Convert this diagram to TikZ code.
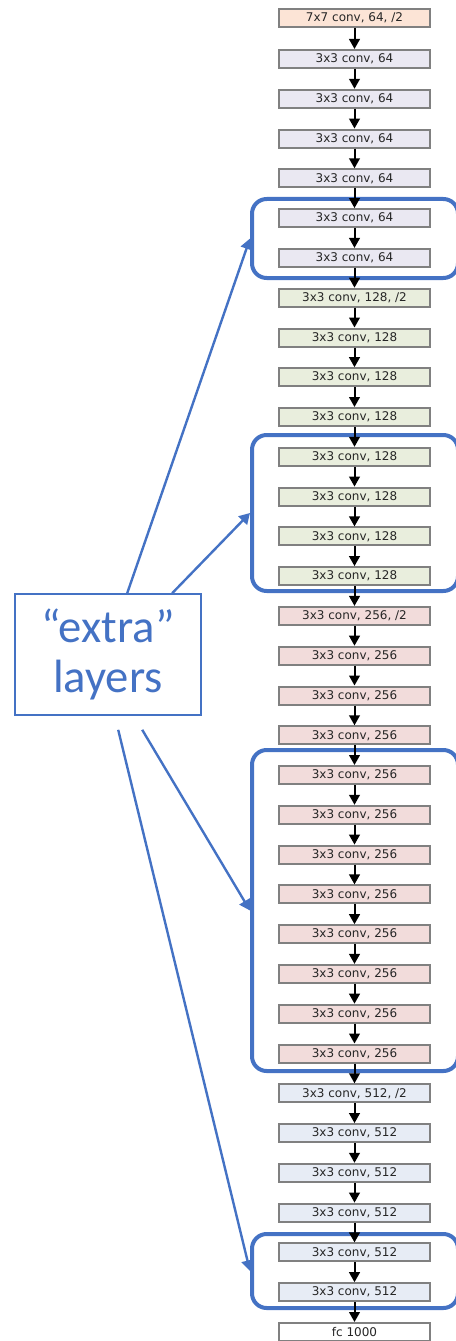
\documentclass[tikz,border=0pt]{standalone}
\usepackage{fontspec}
\newfontfamily\layerfont{DejaVu Sans}
\newfontfamily\notefont{Carlito}
\usepackage{xcolor}
\definecolor{rnpeach}{RGB}{252,228,214}
\definecolor{rnlilac}{RGB}{234,232,242}
\definecolor{rngreen}{RGB}{233,238,221}
\definecolor{rnpink}{RGB}{242,220,219}
\definecolor{rnice}{RGB}{231,236,245}
\definecolor{rngray}{RGB}{128,128,128}
\definecolor{rnblue}{RGB}{68,114,196}
\usetikzlibrary{arrows.meta,positioning,calc}

\begin{document}
\begin{tikzpicture}[x=0.75pt,y=-0.75pt,
  layer/.style={draw=rngray,line width=1.5pt,minimum width=113.5pt,
        minimum height=13.5pt,inner sep=0pt,text=black!85,
        font=\layerfont\fontsize{9}{10}\selectfont},
  flow/.style={-{Triangle[length=7.5pt,width=8pt]},line width=1.5pt},
  group/.style={draw=rnblue,line width=3pt,rounded corners=11pt,
        inner sep=0pt,minimum width=154.5pt},
  pointer/.style={-{Triangle[length=8pt,width=9pt]},draw=rnblue,line width=1.8pt}]
  \useasboundingbox (0,0) rectangle (455,1341);

  %% Frames round the "extra" layers
  \node[group,minimum height=59.25pt] (g1) at (355,238.5) {};
  \node[group,minimum height=117pt] (g2) at (355,513) {};
  \node[group,minimum height=240.75pt] (g3) at (355,910.5) {};
  \node[group,minimum height=55.5pt] (g4) at (355,1271) {};

  %% Stem and 64 stage
  \node[layer,fill=rnpeach] (l1) at (354.5,17.8) {7x7 conv, 64, /2};
  \node[layer,fill=rnlilac] (l2) at (354.5,59) {3x3 conv, 64};
  \node[layer,fill=rnlilac] (l3) at (354.5,98.8) {3x3 conv, 64};
  \node[layer,fill=rnlilac] (l4) at (354.5,138.6) {3x3 conv, 64};
  \node[layer,fill=rnlilac] (l5) at (354.5,178.3) {3x3 conv, 64};
  \node[layer,fill=rnlilac] (l6) at (354.5,218.1) {3x3 conv, 64};
  \node[layer,fill=rnlilac] (l7) at (354.5,257.9) {3x3 conv, 64};

  %% 128 stage
  \node[layer,fill=rngreen] (l8) at (354.5,297.7) {3x3 conv, 128, /2};
  \node[layer,fill=rngreen] (l9) at (354.5,337.5) {3x3 conv, 128};
  \node[layer,fill=rngreen] (l10) at (354.5,377.2) {3x3 conv, 128};
  \node[layer,fill=rngreen] (l11) at (354.5,417) {3x3 conv, 128};
  \node[layer,fill=rngreen] (l12) at (354.5,456.8) {3x3 conv, 128};
  \node[layer,fill=rngreen] (l13) at (354.5,496.6) {3x3 conv, 128};
  \node[layer,fill=rngreen] (l14) at (354.5,536.4) {3x3 conv, 128};
  \node[layer,fill=rngreen] (l15) at (354.5,576.1) {3x3 conv, 128};

  %% 256 stage
  \node[layer,fill=rnpink] (l16) at (354.5,615.9) {3x3 conv, 256, /2};
  \node[layer,fill=rnpink] (l17) at (354.5,655.7) {3x3 conv, 256};
  \node[layer,fill=rnpink] (l18) at (354.5,695.5) {3x3 conv, 256};
  \node[layer,fill=rnpink] (l19) at (354.5,735.3) {3x3 conv, 256};
  \node[layer,fill=rnpink] (l20) at (354.5,775) {3x3 conv, 256};
  \node[layer,fill=rnpink] (l21) at (354.5,814.8) {3x3 conv, 256};
  \node[layer,fill=rnpink] (l22) at (354.5,854.6) {3x3 conv, 256};
  \node[layer,fill=rnpink] (l23) at (354.5,894.4) {3x3 conv, 256};
  \node[layer,fill=rnpink] (l24) at (354.5,934.2) {3x3 conv, 256};
  \node[layer,fill=rnpink] (l25) at (354.5,973.9) {3x3 conv, 256};
  \node[layer,fill=rnpink] (l26) at (354.5,1013.7) {3x3 conv, 256};
  \node[layer,fill=rnpink] (l27) at (354.5,1053.5) {3x3 conv, 256};

  %% 512 stage and classifier
  \node[layer,fill=rnice] (l28) at (354.5,1093.3) {3x3 conv, 512, /2};
  \node[layer,fill=rnice] (l29) at (354.5,1133.1) {3x3 conv, 512};
  \node[layer,fill=rnice] (l30) at (354.5,1172.8) {3x3 conv, 512};
  \node[layer,fill=rnice] (l31) at (354.5,1212.6) {3x3 conv, 512};
  \node[layer,fill=rnice] (l32) at (354.5,1252.4) {3x3 conv, 512};
  \node[layer,fill=rnice] (l33) at (354.5,1292.2) {3x3 conv, 512};
  \node[layer,fill=white] (l34) at (354.5,1332) {fc 1000};

  %% Flow between layers
  \draw[flow] (l1) -- (l2);
  \draw[flow] (l2) -- (l3);
  \draw[flow] (l3) -- (l4);
  \draw[flow] (l4) -- (l5);
  \draw[flow] (l5) -- (l6);
  \draw[flow] (l6) -- (l7);
  \draw[flow] (l7) -- (l8);
  \draw[flow] (l8) -- (l9);
  \draw[flow] (l9) -- (l10);
  \draw[flow] (l10) -- (l11);
  \draw[flow] (l11) -- (l12);
  \draw[flow] (l12) -- (l13);
  \draw[flow] (l13) -- (l14);
  \draw[flow] (l14) -- (l15);
  \draw[flow] (l15) -- (l16);
  \draw[flow] (l16) -- (l17);
  \draw[flow] (l17) -- (l18);
  \draw[flow] (l18) -- (l19);
  \draw[flow] (l19) -- (l20);
  \draw[flow] (l20) -- (l21);
  \draw[flow] (l21) -- (l22);
  \draw[flow] (l22) -- (l23);
  \draw[flow] (l23) -- (l24);
  \draw[flow] (l24) -- (l25);
  \draw[flow] (l25) -- (l26);
  \draw[flow] (l26) -- (l27);
  \draw[flow] (l27) -- (l28);
  \draw[flow] (l28) -- (l29);
  \draw[flow] (l29) -- (l30);
  \draw[flow] (l30) -- (l31);
  \draw[flow] (l31) -- (l32);
  \draw[flow] (l32) -- (l33);
  \draw[flow] (l33) -- (l34);

  %% Label and pointers
  \node[draw=rnblue,line width=1.2pt,minimum width=139.5pt,minimum height=90.75pt,
        text=rnblue,align=center,font=\notefont\fontsize{35}{38}\selectfont]
        (extra) at (108,654.5) {“extra”\\layers};
  \draw[pointer] ($(extra.north west)+(113,0)$) -- (g1.west);
  \draw[pointer] ($(extra.north west)+(158,0)$) -- (g2.west);
  \draw[pointer] ($(extra.south west)+(128,14)$) -- (g3.west);
  \draw[pointer] ($(extra.south west)+(104,14)$) -- (g4.west);
\end{tikzpicture}
\end{document}
